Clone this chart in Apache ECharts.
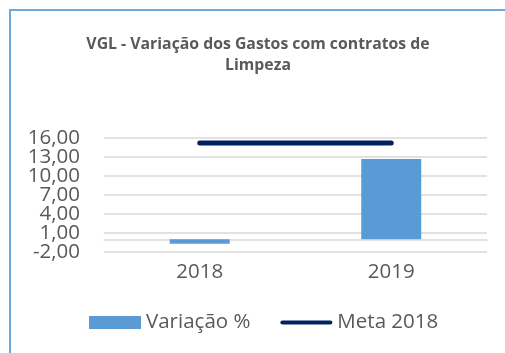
<!DOCTYPE html>
<html>
<head>
<meta charset="utf-8">
<script src="https://cdn.jsdelivr.net/npm/echarts@6/dist/echarts.min.js"></script>
<style>
  html, body { margin: 0; padding: 0; background: #fff; }
  #chart { width: 505px; height: 353px; }
</style>
</head>
<body>
<div id="chart"></div>
<script>
// Chart data
const categories = ['2018', '2019'];
const variacao = [-0.7, 12.7];
const meta2018 = [15.2, 15.2];
const yTicks = [-2, 1, 4, 7, 10, 13, 16];

const chart = echarts.init(document.getElementById('chart'), null, { renderer: 'canvas' });
const textColor = '#595959';
const gridColor = '#d9d9d9';
const fontFamily = '"Open Sans", "Liberation Sans", sans-serif';

// The tick labels sit closer than their line height, so they are split over
// two overlaid value axes (alternate ticks each) to keep every label visible.
const evenTicks = yTicks.filter((_, i) => i % 2 === 0);
const oddTicks = yTicks.filter((_, i) => i % 2 === 1);
const valueAxis = (ticks) => ({
  type: 'value',
  position: 'left',
  offset: 0,
  min: yTicks[0],
  max: yTicks[yTicks.length - 1],
  interval: 3,
  axisLine: { show: false },
  axisTick: { show: false },
  splitLine: { show: false },
  axisLabel: {
    color: textColor, fontSize: 20.5, fontFamily: fontFamily, margin: 24,
    showMinLabel: true,
    showMaxLabel: true,
    hideOverlap: false,
    customValues: ticks,
    formatter: v => v.toFixed(2).replace('.', ',')
  }
});

chart.setOption({
  animation: false,
  graphic: [{
    type: 'rect',
    shape: { x: 10, y: 10, width: 600, height: 400 },
    style: { fill: 'none', stroke: '#6fa8dc', lineWidth: 2 },
    z: 100
  }],
  title: {
    text: 'VGL - Variação dos Gastos com contratos de\nLimpeza',
    left: 258,
    textAlign: 'center',
    top: 34,
    padding: 0,
    textStyle: {
      color: textColor,
      fontSize: 15.8,
      fontWeight: 'bold',
      fontFamily: fontFamily,
      lineHeight: 21
    }
  },
  grid: { left: 104, right: 18, top: 138, bottom: 101, containLabel: false },
  legend: {
    bottom: 15,
    left: 84,
    itemGap: 30,
    itemWidth: 52,
    itemHeight: 13,
    textStyle: { color: textColor, fontSize: 20.5, fontFamily: fontFamily },
    data: [
      { name: 'Variação %', icon: 'rect' },
      { name: 'Meta 2018', icon: 'path://M2,4 L50,4 A2,2 0 0 1 50,8 L2,8 A2,2 0 0 1 2,4 Z' }
    ]
  },
  xAxis: {
    type: 'category',
    data: categories,
    axisLine: { show: true, onZero: true, lineStyle: { color: gridColor, width: 1.5 } },
    axisTick: { show: false },
    axisLabel: { color: textColor, fontSize: 20.5, fontFamily: fontFamily, margin: 10 },
    position: 'bottom'
  },
  yAxis: [valueAxis(evenTicks), valueAxis(oddTicks)],
  series: [
    {
      name: 'Variação %',
      type: 'bar',
      yAxisIndex: 0,
      data: variacao,
      barWidth: 60,
      itemStyle: { color: '#5b9bd5' },
      markLine: {
        silent: true,
        symbol: 'none',
        label: { show: false },
        lineStyle: { color: gridColor, type: 'solid', width: 1.5 },
        data: yTicks.map(v => ({ yAxis: v })),
        z: 0
      },
      z: 3
    },
    {
      name: 'Meta 2018',
      type: 'line',
      yAxisIndex: 0,
      data: meta2018,
      symbol: 'none',
      lineStyle: { color: '#002060', width: 5, cap: 'round' },
      itemStyle: { color: '#002060' },
      z: 4
    }
  ]
});
</script>
</body>
</html>
